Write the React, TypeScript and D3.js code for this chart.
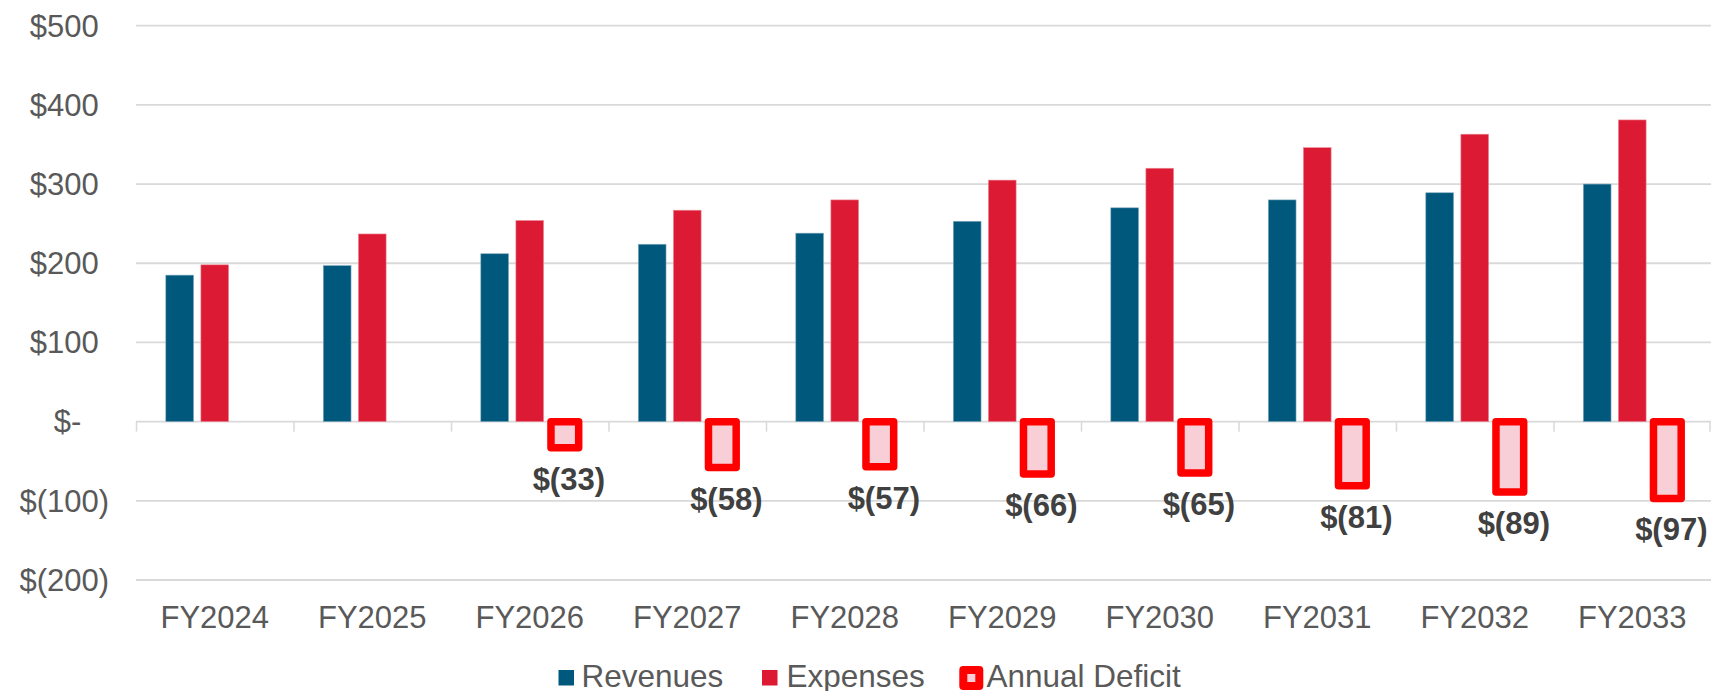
import React from 'react';
import * as d3 from 'd3';

const years = ['FY2024', 'FY2025', 'FY2026', 'FY2027', 'FY2028', 'FY2029', 'FY2030', 'FY2031', 'FY2032', 'FY2033'];
const revenues = [185, 197, 212, 224, 238, 253, 270, 280, 289, 300];
const expenses = [198, 237, 254, 267, 280, 305, 320, 346, 363, 381];
const deficits = [null, null, -33, -58, -57, -66, -65, -81, -89, -97];
const yTicks = [-200, -100, 0, 100, 200, 300, 400, 500];
const legendItems = ['Revenues', 'Expenses', 'Annual Deficit'];

const W = 1711;
const H = 691;
const FONT = '"Liberation Sans", Arial, sans-serif';
const REV = '#00587C';
const EXP = '#DC1A33';
const DEF = '#FF0000';
const DEF_FILL = '#F8CFD6';
const GRID = '#D9D9D9';
const TXT = '#595959';

// excel accounting format: $500 / $- / $(100)
function money(v: number) {
  if (v === 0) return '$-';
  if (v < 0) return `$(${Math.abs(v)})`;
  return `$${v}`;
}
// right padding (in em) that the accounting format leaves after the text
function pad(v: number) {
  if (v === 0) return 0.333 + 0.556;
  if (v < 0) return 0;
  return 0.333;
}

export default function App() {
  const x = d3.scaleBand().domain(years).range([136, W]);
  const inner = d3.scaleBand()
    .domain(['rev', 'exp', 'def'])
    .range([0, x.bandwidth()])
    .paddingInner(0.21)
    .paddingOuter(0.85);
  const y = d3.scaleLinear().domain([-200, 500]).range([580, 25.7]);
  const bw = inner.bandwidth();
  const fs = 31;

  return (
    <svg width={W} height={H} style={{ position: 'absolute', left: 0, top: 0, background: '#fff' }}
      fontFamily={FONT}>
      {/* gridlines */}
      {yTicks.map(t => (
        <line key={'g' + t} x1={136} x2={W} y1={y(t)} y2={y(t)} stroke={GRID} strokeWidth={1.8} />
      ))}
      {/* category ticks on the zero line */}
      {years.map(yr => (
        <line key={'t' + yr} x1={x(yr)! + 0.5} x2={x(yr)! + 0.5} y1={y(0)} y2={y(0) + 10} stroke={GRID} strokeWidth={1.5} />
      ))}
      <line x1={W - 1} x2={W - 1} y1={y(0)} y2={y(0) + 10} stroke={GRID} strokeWidth={1.5} />

      {/* y axis labels */}
      {yTicks.map(t => (
        <text key={'yl' + t} x={109 - pad(t) * fs} y={y(t)} dy="0.35em" textAnchor="end"
          fontSize={fs} fill={TXT}>{money(t)}</text>
      ))}

      {/* x axis labels */}
      {years.map(yr => (
        <text key={'xl' + yr} x={x(yr)! + x.bandwidth() / 2} y={628} textAnchor="middle"
          fontSize={fs} fill={TXT}>{yr}</text>
      ))}

      {/* revenues */}
      {revenues.map((v, i) => (
        <rect key={'r' + i} x={x(years[i])! + inner('rev')!} y={y(v)} width={bw} height={y(0) - y(v)}
          fill={REV} stroke="#7fa9bd" strokeWidth={0.6} />
      ))}
      {/* expenses */}
      {expenses.map((v, i) => (
        <rect key={'e' + i} x={x(years[i])! + inner('exp')!} y={y(v)} width={bw} height={y(0) - y(v)}
          fill={EXP} stroke="#eb8c99" strokeWidth={0.6} />
      ))}
      {/* deficits */}
      {deficits.map((v, i) => v == null ? null : (
        <g key={'d' + i}>
          <rect x={x(years[i])! + inner('def')!} y={y(0)} width={bw} height={y(v) - y(0)}
            fill={DEF_FILL} stroke={DEF} strokeWidth={7.5} strokeLinejoin="round" />
          <text x={x(years[i])! + inner('def')! + bw / 2 + 4} y={y(v) + 42} textAnchor="middle"
            fontSize={31} fontWeight="bold" fill="#404040">{money(v)}</text>
        </g>
      ))}

      {/* legend */}
      <g fontSize={31.5} fill={TXT}>
        <rect x={558.5} y={670} width={15.5} height={15.5} fill={REV} />
        <text x={581.5} y={686.5}>{legendItems[0]}</text>
        <rect x={762} y={670} width={15.5} height={15.5} fill={EXP} />
        <text x={786.5} y={686.5}>{legendItems[1]}</text>
        <rect x={963.3} y={670} width={16} height={16} fill={DEF_FILL} stroke={DEF} strokeWidth={8} strokeLinejoin="round" />
        <text x={986.5} y={686.5}>{legendItems[2]}</text>
      </g>
    </svg>
  );
}
